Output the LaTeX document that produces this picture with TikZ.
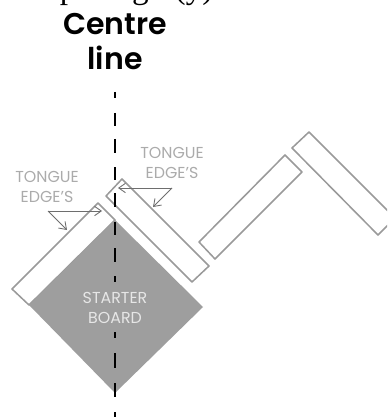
\documentclass[tikz,border=0pt]{standalone}
\usepackage{fontspec}
\setmainfont{Poppins}
\newfontfamily\serifcut{Liberation Serif}
\newfontfamily\titlefont{Poppins SemiBold}
\usetikzlibrary{arrows.meta}
\definecolor{boardline}{HTML}{9A9A9A}
\definecolor{boardfill}{HTML}{9E9E9E}
\definecolor{labelgrey}{HTML}{ABABAB}
\definecolor{startertext}{HTML}{E6E6E6}
\definecolor{arrowgrey}{HTML}{6E6E6E}
\tikzset{
  x=0.75pt,y=-0.75pt,
  plank/.style={draw=boardline,line width=1.15pt,line join=round,fill=white},
  tongue/.style={font=\fontsize{11.9pt}{14.5pt}\selectfont,text=labelgrey,align=center,inner sep=0pt},
  title/.style={font=\titlefont\fontsize{22.5pt}{26pt}\selectfont,text=black,inner sep=0pt,anchor=base},
  hint/.style={draw=arrowgrey,line width=0.65pt,-{Straight Barb[length=5pt,width=7pt]}},
  centre/.style={draw=black,line width=1pt}
}
\begin{document}
\begin{tikzpicture}
\useasboundingbox (0,0) rectangle (387,417);
\clip (0,0) rectangle (387,417);
% cropped line of text at the top
\node[font=\serifcut\fontsize{25pt}{25pt}\selectfont,anchor=base west,inner sep=0pt] (cut) at (41,-1) {Spacing\hspace{19.5pt}(y)};
\node[title] (c1) at (115,35) {Centre};
\node[title] (c2) at (115,70) {line};
% planks
\draw[plank] (98,203) -- (115,220) -- (29,305) -- (12,289) -- cycle;
\fill[boardfill] (115,220) -- (203,307) -- (115,393) -- (29,305) -- cycle;
\draw[plank] (122,179) -- (209,266) -- (192,282) -- (106,196) -- cycle;
\draw[plank] (199,242) -- (285,155) -- (302,172) -- (215,259) -- cycle;
\draw[plank] (292,148) -- (309,132) -- (395,218) -- (378,235) -- cycle;
% centre line
\foreach \a/\b in {92/98,113/126,139/153,167/180,193/207,222/235,248/262,276/282,332/338,353/368,383/397,412/417}
  \draw[centre] (115,\a) -- (115,\b);
% labels
\node[tongue] (t1) at (47,187) {TONGUE\\EDGE'S};
\node[tongue] (t2) at (172,163) {TONGUE\\EDGE'S};
\node[font=\fontsize{11.9pt}{14.5pt}\selectfont,text=startertext,align=center,inner sep=0pt] (s) at (115,308) {STARTER\\BOARD};
% hint arrows
\coordinate (a0) at (48,211);
\coordinate (a1) at (102,211);
\coordinate (a2) at (67,230);
\coordinate (b0) at (172,188);
\coordinate (b1) at (118,188);
\coordinate (b2) at (153,207);
\draw[hint] (a0) -- (a1);
\draw[hint] (a0) -- (a2);
\draw[hint] (b0) -- (b1);
\draw[hint] (b0) -- (b2);
\end{tikzpicture}
\end{document}
